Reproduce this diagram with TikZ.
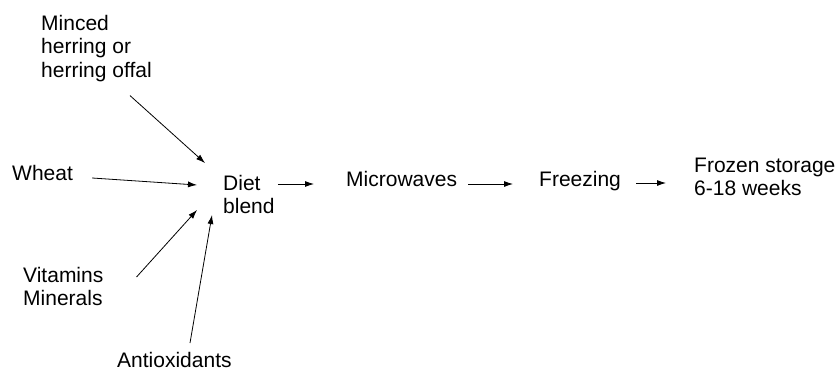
\documentclass[tikz,border=0pt]{standalone}
\usepackage{fontspec}
\setmainfont{Liberation Sans}
\usetikzlibrary{arrows.meta,calc}
\begin{document}
\begin{tikzpicture}[x=1pt,y=-1pt,
  lbl/.style={anchor=north west,inner sep=0pt,align=left,font=\fontsize{21}{23.3}\selectfont},
  arr/.style={-{Latex[length=9pt,width=6pt]},line width=0.8pt}]
\useasboundingbox (0,0) rectangle (837,377);
\node[lbl] (minced) at (41,15) {Minced\\herring or\\herring offal};
\node[lbl] (wheat) at (12,165) {Wheat};
\node[lbl] (vit) at (23,267) {Vitamins\\Minerals};
\node[lbl] (anti) at (117,352) {Antioxidants};
\node[lbl] (diet) at (223,175) {Diet\\blend};
\node[lbl] (micro) at (346,171) {Microwaves};
\node[lbl] (freeze) at (539,171) {Freezing};
\node[lbl] (frozen) at (694,158) {Frozen storage\\6-18 weeks};
\draw[arr] ($(minced.south west)+(89,14)$) -- ($(diet.north west)+(-18,-12)$);
\draw[arr] ($(wheat.north east)+(19,13)$) -- ($(diet.north west)+(-26,10)$);
\draw[arr] ($(vit.north east)+(33,10)$) -- ($(diet.north west)+(-26,35)$);
\draw[arr] ($(anti.north west)+(73,-9)$) -- ($(diet.north west)+(-11,40)$);
\draw[arr] ($(diet.north east)+(3,9)$) -- ($(micro.north west)+(-32,13)$);
\draw[arr] ($(micro.north east)+(11,13)$) -- ($(freeze.north west)+(-26,13)$);
\draw[arr] ($(freeze.north east)+(15,12)$) -- ($(frozen.north west)+(-28,25)$);
\end{tikzpicture}
\end{document}
